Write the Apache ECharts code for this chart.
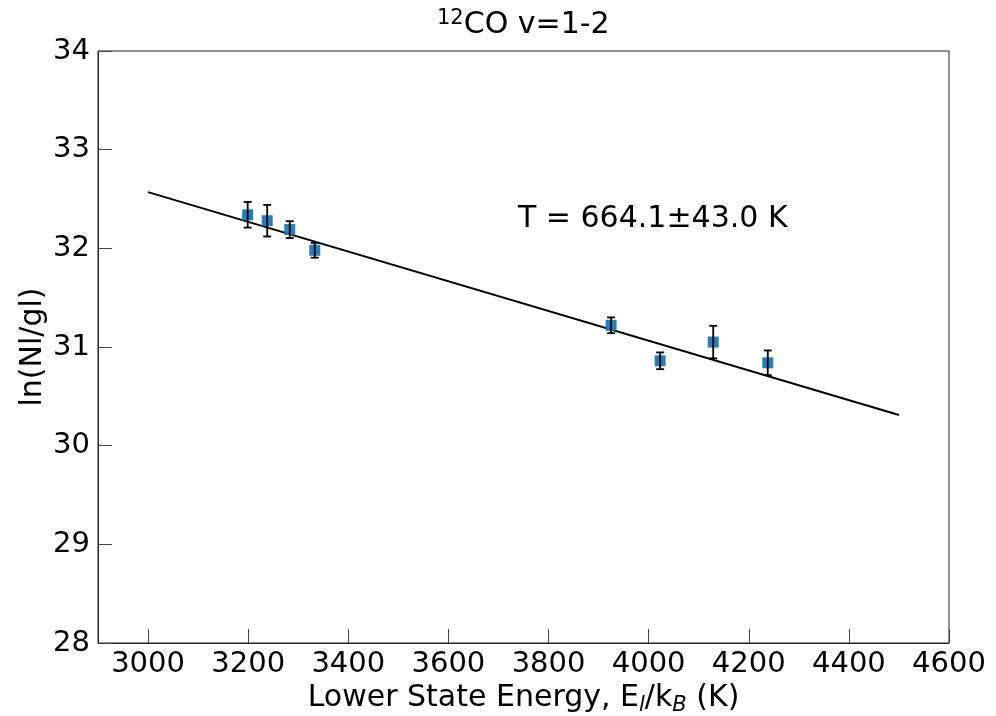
<!DOCTYPE html>
<html>
<head>
<meta charset="utf-8">
<script src="https://cdn.jsdelivr.net/npm/echarts@6/dist/echarts.min.js"></script>
<style>html,body{margin:0;padding:0;background:#fff}#c{width:996px;height:716px}</style>
</head>
<body>
<div id="c"></div>
<script>
// Data
const energy = [3199, 3238, 3283, 3333, 3925, 4023, 4129, 4238];
const lnN    = [32.34, 32.28, 32.19, 31.98, 31.22, 30.86, 31.05, 30.84];
const errN   = [0.13, 0.16, 0.085, 0.075, 0.08, 0.085, 0.165, 0.125];
const fitX   = [3000, 4500];
const fitY   = [32.57, 30.31];
const xTicks = [3000, 3200, 3400, 3600, 3800, 4000, 4200, 4400, 4600];
const yTicks = [28, 29, 30, 31, 32, 33, 34];
const titleSup = '12';
const titleMain = 'CO v=1-2';
const annot = 'T = 664.1\u00b143.0 K';

const FONT = 'DejaVu Sans';
const chart = echarts.init(document.getElementById('c'), null, {renderer: 'canvas'});

const pts = energy.map((x, i) => [x, lnN[i], errN[i]]);
const fit = fitX.map((x, i) => [x, fitY[i]]);

chart.setOption({
  animation: false,
  backgroundColor: '#fff',
  grid: {left: 98, right: 47, top: 51, bottom: 73, outerBoundsMode: 'none', containLabel: false,
    show: true, borderColor: '#222', borderWidth: 1, backgroundColor: 'transparent'},
  xAxis: {
    type: 'value', min: 2900, max: 4600,
    name: '{m|Lower State Energy, E}{s|l}{m|/k}{s|B}{m| (K)}',
    nameLocation: 'middle', nameGap: 37, nameMoveOverlap: false,
    nameTextStyle: {fontFamily: FONT, fontSize: 30, color: '#000',
      rich: {
        m: {fontFamily: FONT, fontSize: 30, color: '#000', lineHeight: 36},
        s: {fontFamily: FONT, fontSize: 21, fontStyle: 'italic', color: '#000', verticalAlign: 'bottom', lineHeight: 18}
      }},
    axisLine: {show: true, lineStyle: {color: '#222', width: 1}},
    axisTick: {show: true, inside: true, length: 14, customValues: xTicks, lineStyle: {color: '#444', width: 1}},
    axisLabel: {customValues: xTicks, fontFamily: FONT, fontSize: 29, color: '#000', margin: 7,
      formatter: v => String(v)},
    splitLine: {show: false}
  },
  yAxis: {
    type: 'value', min: 28, max: 34, interval: 1,
    name: 'ln(Nl/gl)', nameLocation: 'middle', nameGap: 50, nameMoveOverlap: false,
    nameTextStyle: {fontFamily: FONT, fontSize: 30, color: '#000'},
    axisLine: {show: true, lineStyle: {color: '#222', width: 1}},
    axisTick: {show: true, inside: true, length: 14, customValues: yTicks, lineStyle: {color: '#444', width: 1}},
    axisLabel: {customValues: yTicks, fontFamily: FONT, fontSize: 29, color: '#000', margin: 8,
      formatter: v => String(v)},
    splitLine: {show: false}
  },
  graphic: [
    {type: 'text', left: 437, top: 8, z: 10,
      style: {text: '{s|' + titleSup + '}{m|' + titleMain + '}', rich: {
        s: {fontFamily: FONT, fontSize: 21, fill: '#000', verticalAlign: 'top', padding: [0, 0, 14, 0]},
        m: {fontFamily: FONT, fontSize: 30, fill: '#000'}}}},
    {type: 'text', left: 518, top: 204, z: 10,
      style: {text: annot, fontFamily: FONT, fontSize: 30, fill: '#000'}}
  ],
  series: [
    {type: 'line', data: fit, showSymbol: false, symbol: 'none', lineStyle: {color: '#000', width: 2}, z: 2},
    {type: 'scatter', data: pts, symbol: 'rect', symbolSize: 11, itemStyle: {color: '#1f77b4', opacity: 0.95}, z: 3},
    {type: 'custom', z: 4, data: pts,
      renderItem: function (params, api) {
        const x = api.value(0), y = api.value(1), e = api.value(2);
        const top = api.coord([x, y + e]);
        const bot = api.coord([x, y - e]);
        const cw = 4;
        const st = {stroke: '#000', lineWidth: 1.8};
        return {type: 'group', children: [
          {type: 'line', shape: {x1: top[0], y1: top[1], x2: bot[0], y2: bot[1]}, style: st},
          {type: 'line', shape: {x1: top[0] - cw, y1: top[1], x2: top[0] + cw, y2: top[1]}, style: st},
          {type: 'line', shape: {x1: bot[0] - cw, y1: bot[1], x2: bot[0] + cw, y2: bot[1]}, style: st}
        ]};
      }}
  ]
});
</script>
</body>
</html>
